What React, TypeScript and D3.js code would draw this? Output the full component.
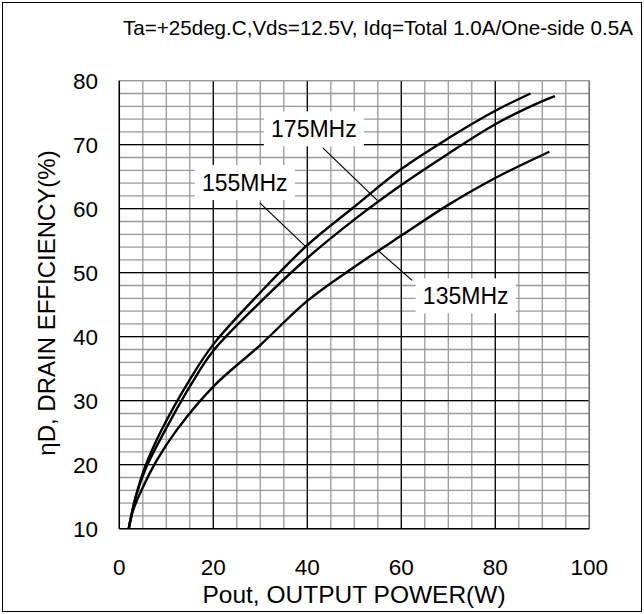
import React from 'react';
import * as d3 from 'd3';

// Pout (W) / drain efficiency (%)
const curve155: [number, number][] = [
  [2, 10], [3.5, 15], [5.5, 19.7], [8.7, 25], [15, 33.3], [20, 38.8], [30, 46.9],
  [40, 54.3], [50, 60.3], [60, 66.2], [70, 71], [80, 75.3], [87.5, 78],
];
const curve175: [number, number][] = [
  [2, 10], [3.5, 15], [5.8, 19.7], [9.4, 24.9], [15.4, 32.7], [20, 37.8], [30, 45.4],
  [40, 52.3], [50, 58.3], [60, 63.7], [70, 68.6], [80, 73.2], [90, 76.8], [92.7, 77.6],
];
const curve135: [number, number][] = [
  [2, 10], [3, 13], [5.1, 16.6], [8, 20.7], [12.2, 25.4], [20, 32.2], [30, 38.7],
  [40, 45.6], [50, 50.9], [60, 55.8], [70, 60.6], [80, 64.8], [91.5, 68.9],
];

const xTicks = [0, 20, 40, 60, 80, 100];
const yTicks = [10, 20, 30, 40, 50, 60, 70, 80];

// label: text, centre, leader line from -> to (data units)
const labels = [
  { text: '175MHz', x: 41.4, y: 72.4, from: [43.3, 69.5], to: [54.9, 61.3] },
  { text: '155MHz', x: 26.7, y: 64.0, from: [29.9, 60.9], to: [39.5, 54.2] },
  { text: '135MHz', x: 73.7, y: 46.3, from: [62.3, 48.8], to: [55.0, 53.5] },
];

const W = 644;
const H = 614;
const font = '"Liberation Sans", Arial, sans-serif';

export default function App() {
  const x = d3.scaleLinear().domain([0, 100]).range([119.3, 589.3]);
  const y = d3.scaleLinear().domain([10, 80]).range([528.7, 80.7]);

  const line = d3.line<[number, number]>()
    .x(d => x(d[0]))
    .y(d => y(d[1]))
    .curve(d3.curveCatmullRom.alpha(0.5));

  const xMinor = d3.range(0, 100.01, 5);
  const yMinor = d3.range(10, 80.01, 2);

  return (
    <svg width={W} height={H} style={{ position: 'absolute', left: 0, top: 0, background: '#fff' }}>
      <rect x={2.5} y={2.5} width={639} height={609} fill="#fff" stroke="#000" strokeWidth={1} />

      {/* minor grid */}
      {xMinor.map(v => (
        <line key={'xm' + v} x1={x(v)} x2={x(v)} y1={y(10)} y2={y(80)} stroke="#999" strokeWidth={1.3} />
      ))}
      {yMinor.map(v => (
        <line key={'ym' + v} x1={x(0)} x2={x(100)} y1={y(v)} y2={y(v)} stroke="#999" strokeWidth={1.3} />
      ))}
      {/* major grid */}
      {[20, 40, 60, 80].map(v => (
        <line key={'xM' + v} x1={x(v)} x2={x(v)} y1={y(10)} y2={y(80)} stroke="#000" strokeWidth={1.2} />
      ))}
      {[20, 30, 40, 50, 60, 70].map(v => (
        <line key={'yM' + v} x1={x(0)} x2={x(100)} y1={y(v)} y2={y(v)} stroke="#000" strokeWidth={1.2} />
      ))}
      <line x1={x(100)} x2={x(100)} y1={y(10)} y2={y(80)} stroke="#777" strokeWidth={1.6} />
      <line x1={x(0)} x2={x(100)} y1={y(80)} y2={y(80)} stroke="#999" strokeWidth={1.3} />
      <line x1={x(0)} x2={x(0)} y1={y(10)} y2={y(80)} stroke="#000" strokeWidth={1.5} />
      <line x1={x(0)} x2={x(100)} y1={y(10)} y2={y(10)} stroke="#000" strokeWidth={1.5} />

      {/* curves */}
      {[curve155, curve175, curve135].map((c, i) => (
        <path key={'c' + i} d={line(c) || ''} fill="none" stroke="#000" strokeWidth={2.4} strokeLinejoin="round" />
      ))}

      {/* labels with leader lines */}
      {labels.map(l => (
        <g key={l.text}>
          <line x1={x(l.from[0])} y1={y(l.from[1])} x2={x(l.to[0])} y2={y(l.to[1])} stroke="#000" strokeWidth={1.2} />
          <rect x={x(l.x) - 50} y={y(l.y) - 18} width={100} height={35} fill="#fff" />
          <text x={x(l.x)} y={y(l.y)} dy="0.35em" textAnchor="middle" fontFamily={font} fontSize={23} fill="#000">
            {l.text}
          </text>
        </g>
      ))}

      {/* axes labels */}
      {xTicks.map(v => (
        <text key={'xt' + v} x={x(v)} y={575} textAnchor="middle" fontFamily={font} fontSize={22.5} fill="#000">
          {v}
        </text>
      ))}
      {yTicks.map(v => (
        <text key={'yt' + v} x={98} y={y(v)} dy="0.36em" textAnchor="end" fontFamily={font} fontSize={22.5} fill="#000">
          {v}
        </text>
      ))}

      <text x={354} y={603} textAnchor="middle" fontFamily={font} fontSize={24.5} fill="#000">
        Pout, OUTPUT POWER(W)
      </text>
      <text transform="translate(55,303) rotate(-90)" textAnchor="middle" fontFamily={font} fontSize={24} fill="#000">
        ηD, DRAIN EFFICIENCY(%)
      </text>
      <text x={123} y={35} fontFamily={font} fontSize={20.6} fill="#000">
        Ta=+25deg.C,Vds=12.5V, Idq=Total 1.0A/One-side 0.5A
      </text>
    </svg>
  );
}
